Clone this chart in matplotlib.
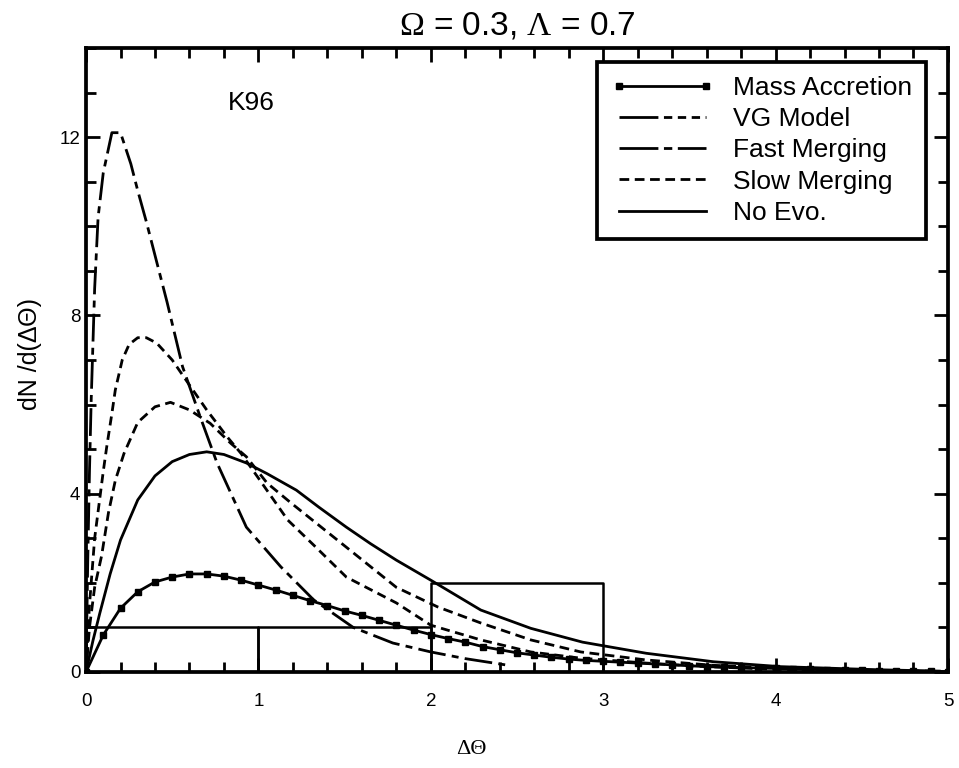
import numpy as np
import matplotlib
matplotlib.use("Agg")
import matplotlib.pyplot as plt
from matplotlib.lines import Line2D

plt.rcParams['font.family'] = ['Liberation Sans', 'DejaVu Sans']
plt.rcParams['mathtext.fontset'] = 'custom'
plt.rcParams['mathtext.rm'] = 'Liberation Serif'
plt.rcParams['lines.scale_dashes'] = False

# histogram of observed separations
hist_edges = [0, 1, 2, 3]
hist_counts = [1, 1, 2]

# Mass Accretion (sampled every 0.1)
ma_x = np.round(np.arange(0, 5.01, 0.1), 2)
ma_y = [0, 0.83, 1.43, 1.8, 2.02, 2.13, 2.2, 2.2, 2.15, 2.06,
        1.95, 1.84, 1.72, 1.6, 1.49, 1.37, 1.27, 1.16, 1.05, 0.94,
        0.84, 0.75, 0.67, 0.57, 0.5, 0.43, 0.38, 0.33, 0.29, 0.26,
        0.24, 0.22, 0.2, 0.18, 0.16, 0.14, 0.12, 0.11, 0.1, 0.09,
        0.08, 0.07, 0.06, 0.05, 0.045, 0.04, 0.03, 0.025, 0.02, 0.015, 0.01]

# VG Model
vg_x = [0, 0.01, 0.02, 0.05, 0.1, 0.12, 0.15, 0.17, 0.21, 0.25, 0.3, 0.35, 0.41,
        0.5, 0.58, 0.7, 0.82, 0.9, 1.0, 1.17, 1.32, 1.51, 1.8, 2.0, 2.29, 2.58,
        2.87, 3.25, 3.6, 4.0, 4.5, 4.9]
vg_y = [0, 0.8, 1.5, 3.0, 4.5, 5.05, 5.8, 6.33, 7.0, 7.35, 7.5, 7.5, 7.38,
        7.0, 6.55, 5.88, 5.27, 4.9, 4.35, 3.41, 2.85, 2.13, 1.55, 1.05, 0.72, 0.45,
        0.31, 0.2, 0.12, 0.06, 0.02, 0.01]

# Fast Merging
fm_x = [0, 0.01, 0.02, 0.03, 0.05, 0.07, 0.1, 0.15, 0.2, 0.26, 0.3, 0.35, 0.41,
        0.47, 0.56, 0.66, 0.76, 0.93, 1.13, 1.32, 1.55, 1.78, 2.0, 2.2, 2.45]
fm_y = [0, 2.5, 4.5, 6.1, 8.6, 10.2, 11.2, 12.1, 12.1, 11.4, 10.8, 10.1, 9.2,
        8.3, 6.85, 5.75, 4.69, 3.25, 2.36, 1.62, 1.0, 0.65, 0.45, 0.3, 0.15]

# Slow Merging
sm_x = [0, 0.02, 0.05, 0.09, 0.13, 0.17, 0.22, 0.3, 0.4, 0.49, 0.6, 0.72, 0.84,
        0.93, 1.05, 1.19, 1.51, 1.8, 2.04, 2.29, 2.58, 2.87, 3.25, 3.64, 4.0,
        4.5, 4.9]
sm_y = [0, 1.0, 1.9, 2.6, 3.57, 4.3, 4.9, 5.6, 5.95, 6.05, 5.88, 5.58, 5.13,
        4.83, 4.24, 3.79, 2.8, 1.9, 1.46, 1.1, 0.72, 0.45, 0.27, 0.15, 0.09,
        0.04, 0.02]

# No Evolution
ne_x = [0, 0.04, 0.08, 0.14, 0.2, 0.3, 0.4, 0.5, 0.6, 0.7, 0.8, 0.93, 1.05,
        1.22, 1.35, 1.51, 1.65, 1.8, 2.0, 2.29, 2.58, 2.88, 3.25, 3.64, 4.03,
        4.6, 4.95]
ne_y = [0, 0.7, 1.32, 2.2, 2.96, 3.86, 4.4, 4.72, 4.88, 4.94, 4.88, 4.69, 4.45,
        4.08, 3.7, 3.25, 2.88, 2.51, 2.06, 1.39, 0.98, 0.67, 0.42, 0.23, 0.12,
        0.05, 0.02]

labels = ["Mass Accretion", "VG Model", "Fast Merging", "Slow Merging", "No Evo."]

fig = plt.figure(figsize=(9.59, 7.68), dpi=100)
ax = fig.add_axes([0.0897, 0.125, 0.8988, 0.8125])

lw = 2.0
ax.plot(ma_x, ma_y, color='k', lw=lw, marker='s', ms=4.5)
ax.plot(vg_x, vg_y, color='k', lw=lw, dashes=(6.5, 4))
ax.plot(fm_x, fm_y, color='k', lw=lw, dashes=(20, 4.5, 5, 4.5))
ax.plot(sm_x, sm_y, color='k', lw=lw, dashes=(7, 4))
ax.plot(ne_x, ne_y, color='k', lw=lw)

# histogram outline
for i in range(len(hist_counts)):
    x0, x1 = hist_edges[i], hist_edges[i + 1]
    ax.plot([x0, x0, x1, x1], [0, hist_counts[i], hist_counts[i], 0], color='k', lw=1.8)

ax.set_xlim(0, 5)
ax.set_ylim(0, 14)
ax.set_xticks([0, 1, 2, 3, 4, 5])
ax.set_yticks([0, 4, 8, 12])
ax.set_xticks(np.arange(0, 5.01, 0.2), minor=True)
ax.set_yticks(np.arange(0, 14.01, 1), minor=True)
ax.tick_params(which='both', direction='in', top=True, right=True, width=2, labelsize=13.5)
ax.tick_params(which='major', length=10)
ax.tick_params(which='minor', length=7)
ax.tick_params(axis='x', which='major', pad=15)
ax.tick_params(axis='y', which='major', pad=4)
for s in ax.spines.values():
    s.set_linewidth(2.7)

ax.set_xlabel("ΔΘ", fontfamily='Liberation Serif', fontsize=16, labelpad=22, x=0.447)
ax.set_ylabel("dN /d(ΔΘ)", fontsize=18, labelpad=13, y=0.51)
ax.set_title(r"$\mathrm{Ω}$ = 0.3, $\mathrm{Λ}$ = 0.7", fontsize=24, pad=10)
ax.text(0.96, 12.77, "K96", fontsize=19, ha='center', va='center')

handles = [
    Line2D([], [], color='k', lw=lw, marker='s', ms=4.5),
    Line2D([], [], color='k', lw=lw, dashes=(28, 4, 6, 4, 6, 4, 6, 4)),
    Line2D([], [], color='k', lw=lw, dashes=(28, 4, 6, 4, 24, 4)),
    Line2D([], [], color='k', lw=lw, dashes=(7, 4)),
    Line2D([], [], color='k', lw=lw),
]
leg = ax.legend(handles, labels, loc='upper right', bbox_to_anchor=(0.975, 0.978),
                fontsize=19, numpoints=2, handlelength=3.9, handletextpad=0.7,
                labelspacing=0.27, fancybox=False, edgecolor='k', framealpha=1,
                borderpad=0.55, borderaxespad=0)
leg.get_frame().set_linewidth(2.7)

plt.savefig("out.png", dpi=100)
